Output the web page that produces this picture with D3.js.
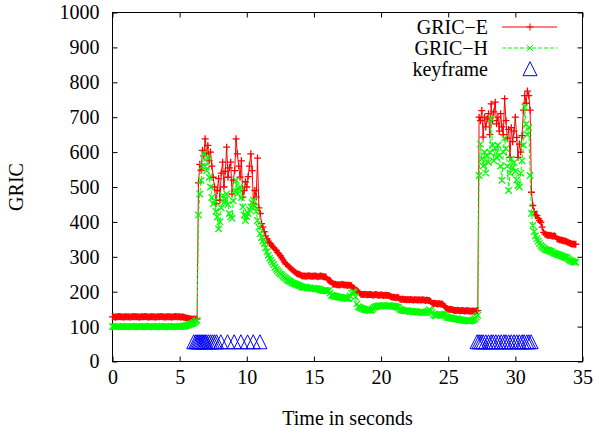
<!DOCTYPE html>
<html lang="en">
<head>
<meta charset="UTF-8">
<title>GRIC over time</title>
<script src="https://cdn.jsdelivr.net/npm/d3@7"></script>
<style>
  body { margin: 0; background: #fff; }
  svg { display: block; }
  svg text { font-family: "Liberation Serif", "DejaVu Serif", serif; font-size: 20px; fill: #000; }
</style>
</head>
<body>
<svg id="chart" width="595" height="428"></svg>
<script>
// samples are 0.1 s apart, starting at t = 0
const sampleStep = 0.1;

const gricE = [
  128,128,127,128,128,129,128,128,127,128,
  128,128,128,127,128,128,129,128,128,128,
  127,128,128,128,129,128,128,127,128,128,
  128,128,127,128,128,128,129,128,128,127,
  128,128,128,128,127,128,128,129,128,128,
  128,127,128,
  127,126,125,124,123,122,122,121,122,121,122,
  512,565,548,605,590,638,595,619,575,600,
  560,528,500,452,490,524,462,540,571,500,
  545,614,528,555,571,480,520,547,638,595,
  560,528,575,471,490,515,500,530,560,595,
  547,452,490,471,583,440,424,395,385,372,
  360,352,
  345,340,336,330,326,322,318,312,308,303,297,291,285,280,277,273,270,266,262,259,256,253,251,250,248,
  246,245,245,244,245,246,245,244,244,245,245,244,243,244,245,244,243,243,242,
  236,233,232,228,
  222,221,221,220,220,219,220,221,220,219,219,218,219,218,217,
  212,207,205,204,200,196,
  193,192,192,193,192,191,192,192,191,190,191,192,191,190,190,191,190,189,190,190,189,189,
  186,
  185,184,184,183,184,183,
  179,178,179,178,178,177,178,177,178,177,176,177,177,176,177,176,176,177,176,175,176,175,175,
  172,
  167,166,167,166,165,166,165,165,164,
  160,155,
  151,150,150,149,149,
  147,146,146,147,146,145,146,146,145,145,146,145,145,144,145,145,144,145,146,
  700,690,719,643,700,672,695,710,650,738,
  690,715,743,681,700,660,710,672,650,753,
  690,640,665,585,670,630,660,700,642,585,
  623,600,647,720,762,740,775,762,720,
  485,447,430,420,418,410,404,399,385,370,
  365,363,362,361,362,360,359,360,358,
  352,350,349,348,347,346,345,344,342,340,
  338,337,337,336,336
];

const gricH = [
  100,100,99,100,101,100,100,99,100,100,
  100,101,100,100,99,100,100,100,101,100,
  99,100,100,100,101,100,99,100,100,100,
  100,99,100,101,100,100,100,99,100,100,
  101,100,100,99,100,100,101,100,100,99,
  100,100,101,
  101,102,103,104,106,107,108,110,112,115,118,
  420,480,519,560,595,560,547,585,528,500,
  470,452,462,430,414,380,400,440,476,455,
  462,480,450,424,415,410,460,490,519,480,
  495,500,470,443,420,404,415,424,435,443,
  455,462,443,430,404,385,366,355,345,338,
  326,314,
  305,296,290,284,278,270,264,260,255,251,248,244,241,238,235,232,230,228,225,224,222,221,219,218,216,
  214,213,212,213,211,210,211,210,209,210,208,209,208,207,
  205,204,203,204,203,202,203,
  196,
  190,189,188,187,186,185,184,184,183,182,182,181,180,181,
  188,196,200,198,185,165,157,
  155,153,152,150,149,148,147,147,146,148,
  152,155,157,158,159,160,159,160,161,160,159,160,161,159,158,159,158,157,156,154,
  150,148,147,146,145,146,145,144,143,144,143,142,143,142,141,142,141,140,141,140,
  142,145,148,146,140,135,132,131,
  133,135,136,135,134,133,130,
  127,126,125,125,124,123,122,122,121,120,120,119,118,118,117,117,116,116,117,118,120,123,127,132,
  533,623,580,560,600,540,590,570,600,696,
  620,575,610,585,620,590,560,519,600,640,
  610,560,490,540,580,555,570,545,520,505,
  500,540,575,620,729,680,650,670,533,
  424,390,372,360,352,345,338,332,328,
  325,322,320,319,318,316,315,
  312,310,309,307,306,305,303,302,300,299,298,
  295,292,290,288,286,285,284
];

const keyframeTimes = [
  6.05, 6.2, 6.3, 6.4, 6.5, 6.6, 6.7, 6.8, 6.9, 7.0, 7.15, 7.3, 7.45, 7.6, 7.75,
  8.07, 8.57, 9.06, 9.56, 10.06, 10.48, 10.98,
  27.15, 27.3, 27.45, 27.6, 27.8, 28.0, 28.2, 28.35, 28.55, 28.75, 28.95, 29.15,
  29.3, 29.5, 29.7, 29.9, 30.1, 30.3, 30.5, 30.65, 30.85, 31.0, 31.17
];
const keyframeLevel = 50;

const xTicks = [0, 5, 10, 15, 20, 25, 30, 35];
const yTicks = [0, 100, 200, 300, 400, 500, 600, 700, 800, 900, 1000];

const width = 595, height = 428;
const margin = { top: 12.5, right: 12.5, bottom: 66.5, left: 112.5 };

const svg = d3.select("#chart");

const x = d3.scaleLinear().domain([0, 35]).range([margin.left, width - margin.right]);
const y = d3.scaleLinear().domain([0, 1000]).range([height - margin.bottom, margin.top]);

const styleAxis = g => {
    g.attr("font-family", null).attr("font-size", null);
    g.select(".domain").remove();
    g.selectAll("line").attr("stroke", "#000");
    g.selectAll("text").attr("fill", "#000");
};

// axes, ticks pointing inward on all four sides
svg.append("g")
    .attr("transform", `translate(0,${y(0)})`)
    .call(d3.axisBottom(x).tickValues(xTicks).tickFormat(d3.format("d"))
        .tickSize(-5).tickSizeOuter(0).tickPadding(8))
    .call(styleAxis);
svg.append("g")
    .attr("transform", `translate(0,${y(1000)})`)
    .call(d3.axisTop(x).tickValues(xTicks).tickSize(-5).tickSizeOuter(0).tickFormat(""))
    .call(styleAxis);
svg.append("g")
    .attr("transform", `translate(${x(0)},0)`)
    .call(d3.axisLeft(y).tickValues(yTicks).tickFormat(d3.format("d"))
        .tickSize(-5).tickSizeOuter(0).tickPadding(13))
    .call(styleAxis);
svg.append("g")
    .attr("transform", `translate(${x(35)},0)`)
    .call(d3.axisRight(y).tickValues(yTicks).tickSize(-5).tickSizeOuter(0).tickFormat(""))
    .call(styleAxis);

svg.append("rect")
    .attr("x", x(0)).attr("y", y(1000))
    .attr("width", x(35) - x(0)).attr("height", y(0) - y(1000))
    .attr("fill", "none").attr("stroke", "#000");

// axis titles
svg.append("text")
    .attr("x", (x(0) + x(35)) / 2).attr("y", 425)
    .attr("text-anchor", "middle")
    .text("Time in seconds");
svg.append("text")
    .attr("transform", `translate(23,${(y(0) + y(1000)) / 2}) rotate(-90)`)
    .attr("text-anchor", "middle")
    .text("GRIC");

const line = d3.line()
    .x((d, i) => x(i * sampleStep))
    .y(d => y(d));

const plusPath = (px, py, r) => `M${px - r},${py}h${2 * r}M${px},${py - r}v${2 * r}`;
const crossPath = (px, py, r) => `M${px - r},${py - r}l${2 * r},${2 * r}M${px - r},${py + r}l${2 * r},${-2 * r}`;
const triPath = (px, py) => `M${px},${py - 9.3}L${px + 7},${py + 4.7}L${px - 7},${py + 4.7}Z`;

// GRIC-E
svg.append("path")
    .attr("d", line(gricE))
    .attr("fill", "none").attr("stroke", "#ff0000").attr("stroke-width", 1);
svg.append("path")
    .attr("d", gricE.map((v, i) => plusPath(x(i * sampleStep), y(v), 3.5)).join(""))
    .attr("fill", "none").attr("stroke", "#ff0000").attr("stroke-width", 1.3);

// GRIC-H
svg.append("path")
    .attr("d", line(gricH))
    .attr("fill", "none").attr("stroke", "#00ff00").attr("stroke-width", 1)
    .attr("stroke-dasharray", "4,2");
svg.append("path")
    .attr("d", gricH.map((v, i) => crossPath(x(i * sampleStep), y(v), 3.2)).join(""))
    .attr("fill", "none").attr("stroke", "#00ff00").attr("stroke-width", 1.3);

// keyframes
svg.append("path")
    .attr("d", keyframeTimes.map(t => triPath(x(t), y(keyframeLevel))).join(""))
    .attr("fill", "none").attr("stroke", "#0000ff").attr("stroke-width", 1);

// legend
const legendRows = [
    { label: "GRIC\u2212E", color: "#ff0000", dash: null, mark: plusPath, r: 3.5, y: 27 },
    { label: "GRIC\u2212H", color: "#00ff00", dash: "4,2", mark: crossPath, r: 3, y: 48 },
    { label: "keyframe", color: "#0000ff", dash: null, mark: null, r: 0, y: 69 }
];
const legend = svg.append("g");
legendRows.forEach(r => {
    legend.append("text")
        .attr("x", 488).attr("y", r.y).attr("dy", "0.33em")
        .attr("text-anchor", "end")
        .text(r.label);
    if (r.mark) {
        legend.append("line")
            .attr("x1", 502).attr("x2", 557).attr("y1", r.y).attr("y2", r.y)
            .attr("stroke", r.color).attr("stroke-dasharray", r.dash);
        legend.append("path")
            .attr("d", r.mark(530, r.y, r.r))
            .attr("fill", "none").attr("stroke", r.color);
    } else {
        legend.append("path")
            .attr("d", triPath(530, r.y + 2))
            .attr("fill", "none").attr("stroke", r.color);
    }
});
</script>
</body>
</html>
